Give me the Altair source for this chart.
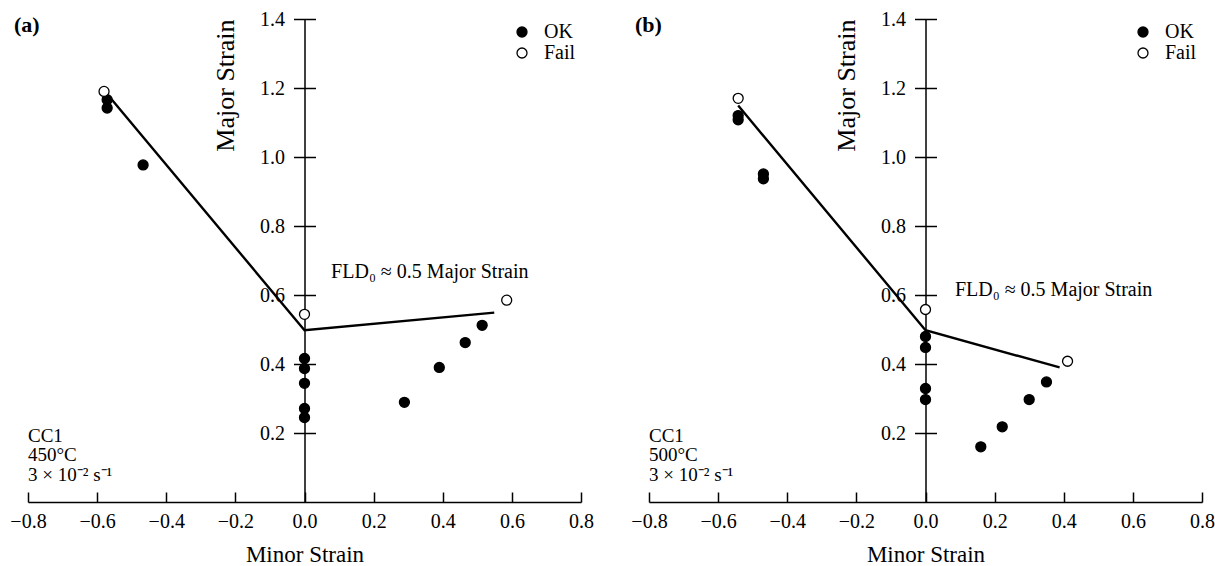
import altair as alt
import pandas as pd

FONT = "Liberation Serif"
W, H = 553, 483

minor_ticks = [-0.8, -0.6, -0.4, -0.2, 0.0, 0.2, 0.4, 0.6, 0.8]
major_ticks = [0.2, 0.4, 0.6, 0.8, 1.0, 1.2, 1.4]

# (a) CC1, 450 °C
a_ok_minor = [-0.571, -0.571, -0.467, 0.0, 0.0, 0.0, 0.0, 0.0, 0.289, 0.390, 0.465, 0.514]
a_ok_major = [1.166, 1.142, 0.977, 0.416, 0.387, 0.344, 0.271, 0.245, 0.289, 0.390, 0.462, 0.512]
a_fail_minor = [-0.580, 0.0, 0.585]
a_fail_major = [1.190, 0.544, 0.585]
a_fld_minor = [-0.559, 0.0, 0.549]
a_fld_major = [1.168, 0.498, 0.549]

# (b) CC1, 500 °C
b_ok_minor = [-0.542, -0.542, -0.469, -0.469, 0.0, 0.0, 0.0, 0.0, 0.160, 0.222, 0.300, 0.350]
b_ok_major = [1.120, 1.108, 0.951, 0.937, 0.480, 0.448, 0.329, 0.297, 0.160, 0.218, 0.297, 0.348]
b_fail_minor = [-0.542, 0.0, 0.411]
b_fail_major = [1.170, 0.558, 0.408]
b_fld_minor = [-0.542, 0.0, 0.388]
b_fld_major = [1.149, 0.498, 0.390]

notes_a = ["CC1", "450°C", "3 × 10⁻² s⁻¹"]
notes_b = ["CC1", "500°C", "3 × 10⁻² s⁻¹"]
fld_text = "FLD₀ ≈ 0.5 Major Strain"

# anchors for the text blocks (data units)
NOTE_X = -0.8
NOTE_Y = [0.174, 0.119, 0.061]

# the vertical axis sits at minor strain 0, i.e. half-way across the plot
MID = W / 2


def panel(tag, ok_x, ok_y, fail_x, fail_y, fld_x, fld_y, notes, fld_anchor):
    xs = alt.Scale(domain=[-0.8, 0.8], nice=False, zero=False)
    ys = alt.Scale(domain=[0, 1.4], nice=False, zero=False)

    pts = pd.DataFrame({
        "minor": ok_x + fail_x,
        "major": ok_y + fail_y,
        "status": ["OK"] * len(ok_x) + ["Fail"] * len(fail_x),
    })
    fld = pd.DataFrame({"minor": fld_x, "major": fld_y, "order": list(range(len(fld_x)))})
    note_df = pd.DataFrame({"minor": [NOTE_X] * len(notes), "major": NOTE_Y, "text": notes})
    fld_df = pd.DataFrame({"minor": [fld_anchor[0]], "major": [fld_anchor[1]], "text": [fld_text]})

    x_main = alt.Axis(
        orient="bottom", values=minor_ticks, format=".1f", ticks=False,
        domainColor="black", domainWidth=1.5, grid=False,
        labelFont=FONT, labelFontSize=20, labelColor="black", labelPadding=9,
        labelFlush=False, labelOverlap=False, labelBound=False,
        title="Minor Strain", titleFont=FONT, titleFontSize=23,
        titleFontWeight="normal", titleColor="black", titlePadding=12,
    )
    y_main = alt.Axis(
        orient="left", offset=-MID, values=major_ticks, format=".1f",
        tickSize=11, tickColor="black", tickWidth=1.5,
        domainColor="black", domainWidth=1.5, grid=False,
        labelFont=FONT, labelFontSize=20, labelColor="black", labelPadding=9,
        labelFlush=False, labelOverlap=False, labelBound=False,
        title="Major Strain", titleFont=FONT, titleFontSize=26,
        titleFontWeight="normal", titleColor="black",
        titleAnchor="end", titlePadding=21,
    )
    # second pair of axes: upward ticks on the x axis, right-hand half of the y ticks
    x_ticks = alt.Axis(
        orient="top", offset=-H, values=minor_ticks, tickSize=10,
        tickColor="black", tickWidth=1.5, labels=False, domain=False,
        grid=False, title=None,
    )
    y_ticks = alt.Axis(
        orient="right", offset=-MID, values=major_ticks, tickSize=11,
        tickColor="black", tickWidth=1.5, labels=False, domain=False,
        grid=False, title=None,
    )

    points = alt.Chart(pts).mark_point(
        shape="circle", filled=True, stroke="black", strokeWidth=1.3,
        size=100, opacity=1,
    ).encode(
        x=alt.X("minor:Q", scale=xs, axis=x_main),
        y=alt.Y("major:Q", scale=ys, axis=y_main),
        fill=alt.Fill(
            "status:N",
            scale=alt.Scale(domain=["OK", "Fail"], range=["black", "white"]),
            legend=alt.Legend(
                orient="none", legendX=484, legendY=3, title=None, padding=0,
                labelFont=FONT, labelFontSize=20, labelColor="black",
                symbolType="circle", symbolSize=100, symbolStrokeColor="black",
                symbolStrokeWidth=1.3, labelOffset=12, rowPadding=1,
            ),
        ),
    )

    line = alt.Chart(fld).mark_line(color="black", strokeWidth=2.4).encode(
        x=alt.X("minor:Q", scale=xs, axis=x_ticks),
        y=alt.Y("major:Q", scale=ys, axis=y_ticks),
        order="order:O",
    )

    note = alt.Chart(note_df).mark_text(
        align="left", baseline="alphabetic", font=FONT, fontSize=19, color="black",
    ).encode(
        x=alt.X("minor:Q", scale=xs, axis=None),
        y=alt.Y("major:Q", scale=ys, axis=None),
        text="text:N",
    )

    fld_label = alt.Chart(fld_df).mark_text(
        align="left", baseline="middle", font=FONT, fontSize=20, color="black",
    ).encode(
        x=alt.X("minor:Q", scale=xs, axis=None),
        y=alt.Y("major:Q", scale=ys, axis=None),
        text="text:N",
    )

    return alt.layer(line, points, note, fld_label).resolve_axis(
        x="independent", y="independent"
    ).properties(
        width=W, height=H,
        title=alt.TitleParams(
            text=tag, anchor="start", frame="group", dx=-14, dy=45, offset=0,
            font=FONT, fontSize=22, fontWeight="bold", color="black",
            baseline="alphabetic",
        ),
    )


pa = panel("(a)", a_ok_minor, a_ok_major, a_fail_minor, a_fail_major,
           a_fld_minor, a_fld_major, notes_a, (0.077, 0.667))
pb = panel("(b)", b_ok_minor, b_ok_major, b_fail_minor, b_fail_major,
           b_fld_minor, b_fld_major, notes_b, (0.085, 0.614))

chart = alt.hconcat(pa, pb, spacing=68, bounds="flush").resolve_scale(
    fill="independent"
).properties(
    padding={"left": 9, "top": 9, "right": 0, "bottom": 0},
    background="white",
).configure_view(stroke=None)

chart.save("out.html", embed_options={"renderer": "svg", "actions": False})
